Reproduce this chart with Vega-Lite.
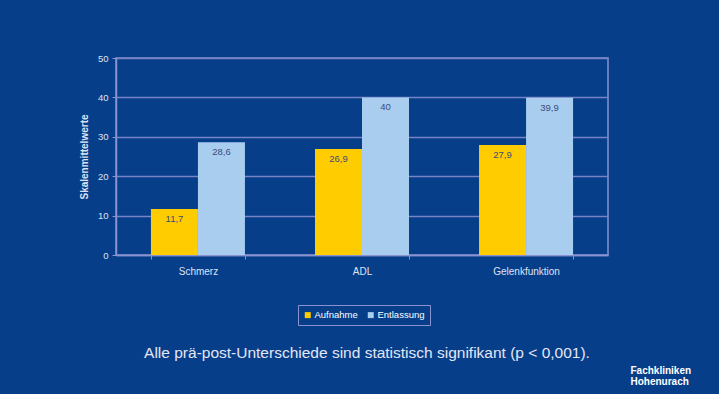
{
  "$schema": "https://vega.github.io/schema/vega-lite/v6.json",
  "width": 492,
  "height": 197,
  "autosize": {"type": "none"},
  "padding": {"left": 116, "top": 58, "right": 111, "bottom": 139},
  "background": "#063e8a",
  "title": {
    "text": "Alle prä-post-Unterschiede sind statistisch signifikant (p < 0,001).",
    "orient": "bottom",
    "anchor": "middle",
    "offset": 0,
    "dy": -40,
    "dx": 5,
    "fontSize": 15.5,
    "fontWeight": "normal",
    "color": "#e4e6f4",
    "font": "Liberation Sans"
  },
  "data": {
    "values": [
      {"skala": "Schmerz", "zeitpunkt": "Aufnahme", "wert": 11.7},
      {"skala": "Schmerz", "zeitpunkt": "Entlassung", "wert": 28.6},
      {"skala": "ADL", "zeitpunkt": "Aufnahme", "wert": 26.9},
      {"skala": "ADL", "zeitpunkt": "Entlassung", "wert": 40},
      {"skala": "Gelenkfunktion", "zeitpunkt": "Aufnahme", "wert": 27.9},
      {"skala": "Gelenkfunktion", "zeitpunkt": "Entlassung", "wert": 39.9}
    ]
  },
  "encoding": {
    "x": {
      "field": "skala",
      "type": "nominal",
      "sort": ["Schmerz", "ADL", "Gelenkfunktion"],
      "scale": {"paddingInner": 0.427, "paddingOuter": 0.213},
      "axis": {
        "title": ["Fachkliniken", "Hohenurach"],
        "titleX": 514,
        "titleY": 110,
        "titleAlign": "left",
        "titleBaseline": "top",
        "titleAngle": 0,
        "titleFontSize": 10,
        "titleFontWeight": "bold",
        "titleColor": "#ffffff",
        "titleLineHeight": 11,
        "labelAngle": 0,
        "labelFontSize": 10,
        "labelPadding": 7,
        "labelColor": "#dfe2f4",
        "domainColor": "#8a93d0",
        "domainWidth": 1.5,
        "tickBand": "extent",
        "tickColor": "#8a93d0",
        "tickSize": 4,
        "grid": false
      }
    },
    "xOffset": {
      "field": "zeitpunkt",
      "type": "nominal",
      "sort": ["Aufnahme", "Entlassung"],
      "scale": {"paddingInner": 0, "paddingOuter": 0}
    },
    "y": {
      "field": "wert",
      "type": "quantitative",
      "scale": {"domain": [0, 50]},
      "axis": {
        "title": "Skalenmittelwerte",
        "titleFontSize": 10,
        "titleFontWeight": "bold",
        "titleColor": "#dfe2f4",
        "titlePadding": 8,
        "values": [0, 10, 20, 30, 40, 50],
        "labelFontSize": 9.5,
        "labelColor": "#dfe2f4",
        "labelPadding": 4,
        "domainColor": "#8a93d0",
        "domainWidth": 1.5,
        "tickColor": "#8a93d0",
        "tickSize": 4,
        "gridColor": "#7883c6",
        "gridWidth": 1.5
      }
    }
  },
  "layer": [
    {
      "mark": {"type": "bar"},
      "encoding": {
        "color": {
          "field": "zeitpunkt",
          "type": "nominal",
          "sort": ["Aufnahme", "Entlassung"],
          "scale": {"domain": ["Aufnahme", "Entlassung"], "range": ["#ffcc00", "#a9cdef"]},
          "legend": {
            "title": null,
            "orient": "none",
            "direction": "horizontal",
            "legendX": 182,
            "legendY": 247,
            "symbolType": "square",
            "symbolSize": 36,
            "symbolStrokeWidth": 0,
            "labelFontSize": 9.5,
            "labelColor": "#ffffff",
            "columnPadding": 8,
            "padding": 5,
            "strokeColor": "#8a93d0",
            "labelOffset": 2
          }
        }
      }
    },
    {
      "mark": {"type": "text", "baseline": "top", "dy": 5, "fontSize": 9.5, "color": "#3d4b78"},
      "encoding": {
        "text": {"field": "wert", "type": "quantitative", "format": ".3~g"}
      }
    }
  ],
  "config": {
    "font": "Liberation Sans",
    "view": {"stroke": "#8a93d0", "strokeWidth": 1.5},
    "locale": {
      "number": {"decimal": ",", "thousands": ".", "grouping": [3], "currency": ["", " €"]}
    }
  }
}
